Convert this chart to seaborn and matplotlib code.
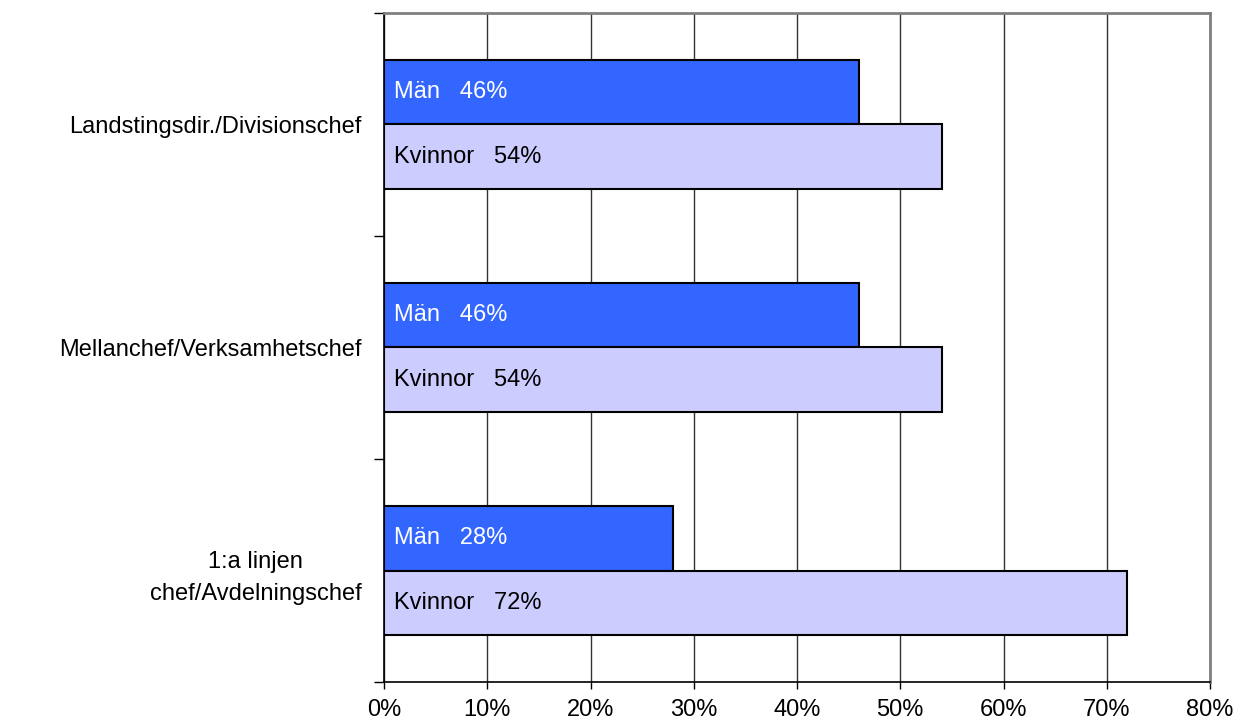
import pandas as pd
import matplotlib.pyplot as plt
import seaborn as sns
from matplotlib.ticker import FixedLocator, PercentFormatter

# data
categories = ["Landstingsdir./Divisionschef",
              "Mellanchef/Verksamhetschef",
              "1:a linjen\nchef/Avdelningschef"]
men = [46, 46, 28]
women = [54, 54, 72]
groups = ["Män", "Kvinnor"]
colors = ["#3366FF", "#CCCCFF"]
text_colors = ["white", "black"]

df = pd.DataFrame({
    "kategori": categories * 2,
    "andel": men + women,
    "kon": [groups[0]] * len(categories) + [groups[1]] * len(categories),
})

sns.set_style("white")
plt.rcParams["font.family"] = ["Liberation Sans", "DejaVu Sans"]
plt.rcParams["text.color"] = "black"
plt.rcParams["xtick.color"] = "black"
plt.rcParams["ytick.color"] = "black"

fs = 17

fig = plt.figure(figsize=(12.48, 7.26), dpi=100)
ax = fig.add_axes([0.3077, 0.0606, 0.9696 - 0.3077, 0.9821 - 0.0606])

sns.barplot(data=df, x="andel", y="kategori", hue="kon", hue_order=groups,
            palette=colors, orient="h", width=0.58, edgecolor="black",
            linewidth=1.5, saturation=1, ax=ax, legend=False)

# labels inside the bars, at the left end
for cont, grp, tc in zip(ax.containers, groups, text_colors):
    for patch, val in zip(cont.patches, cont.datavalues):
        ax.annotate("{}   {:.0f}%".format(grp, val),
                    xy=(patch.get_x(), patch.get_y() + patch.get_height() / 2),
                    xytext=(7, 0), textcoords="offset points",
                    ha="left", va="center", fontsize=fs, color=tc)

ax.set_xlim(0, 80)
ax.set_ylim(2.5, -0.5)
ax.xaxis.set_major_locator(FixedLocator(range(0, 81, 10)))
ax.xaxis.set_major_formatter(PercentFormatter(decimals=0))
ax.grid(axis="x", color="#333333", linewidth=1)
ax.set_axisbelow(True)

ax.yaxis.set_minor_locator(FixedLocator([-0.5, 0.5, 1.5, 2.5]))
ax.tick_params(axis="y", which="major", length=0, pad=16, labelsize=fs)
ax.tick_params(axis="y", which="minor", left=True, length=7, width=1, color="black")
ax.tick_params(axis="x", which="major", bottom=True, length=5, width=1,
               color="black", labelsize=fs, pad=7)
for lbl in ax.get_yticklabels():
    lbl.set_multialignment("center")
    lbl.set_linespacing(1.6)

ax.set_xlabel("")
ax.set_ylabel("")
for side in ["left", "bottom"]:
    ax.spines[side].set_color("black")
    ax.spines[side].set_linewidth(1.2)
for side in ["top", "right"]:
    ax.spines[side].set_color("#808080")
    ax.spines[side].set_linewidth(2)

fig.savefig("out.png", dpi=100)
